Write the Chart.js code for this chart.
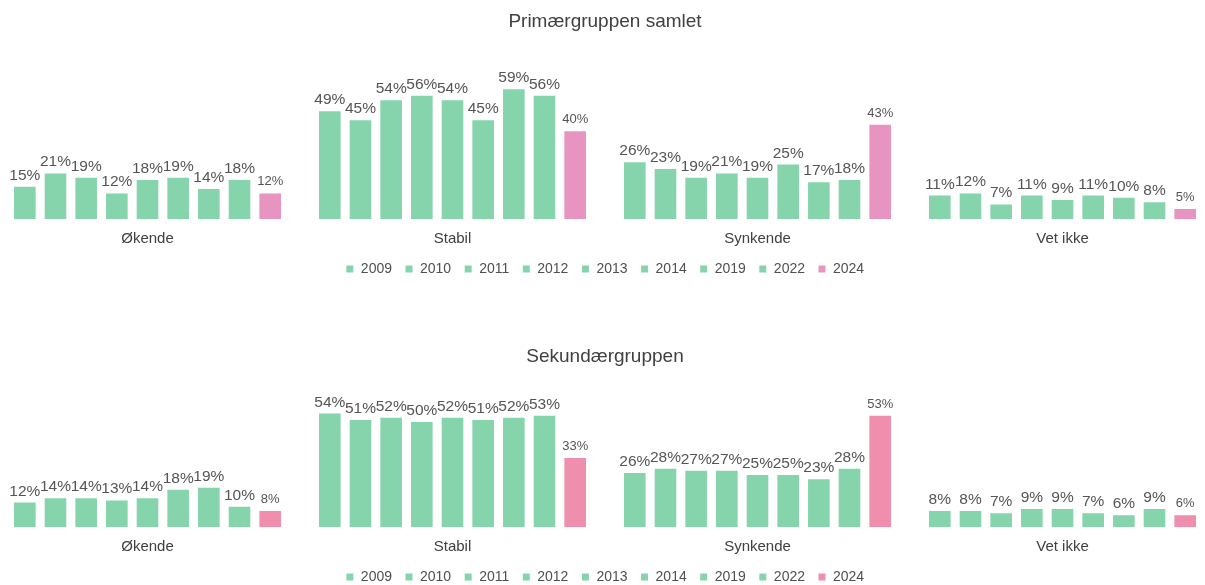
<!DOCTYPE html>
<html>
<head>
<meta charset="utf-8">
<script src="https://cdn.jsdelivr.net/npm/chart.js@4/dist/chart.umd.min.js"></script>
<style>
  html, body { margin: 0; padding: 0; background: #fff; overflow: hidden; }
  body { width: 1205px; height: 585px; position: relative; }
  .box { position: absolute; left: -5px; width: 1220px; }
  #top { top: 0; height: 286px; }
  #bottom { top: 335px; height: 259px; }
</style>
</head>
<body>
<div class="box" id="top"><canvas id="chartTop"></canvas></div>
<div class="box" id="bottom"><canvas id="chartBottom"></canvas></div>
<script>
const categories = ['Økende', 'Stabil', 'Synkende', 'Vet ikke'];
const years = ['2009', '2010', '2011', '2012', '2013', '2014', '2019', '2022', '2024'];

// Primærgruppen samlet, one array per category (values per year)
const primOkende   = [15, 21, 19, 12, 18, 19, 14, 18, 12];
const primStabil   = [49, 45, 54, 56, 54, 45, 59, 56, 40];
const primSynkende = [26, 23, 19, 21, 19, 25, 17, 18, 43];
const primVetIkke  = [11, 12, 7, 11, 9, 11, 10, 8, 5];

// Sekundærgruppen
const sekOkende   = [12, 14, 14, 13, 14, 18, 19, 10, 8];
const sekStabil   = [54, 51, 52, 50, 52, 51, 52, 53, 33];
const sekSynkende = [26, 28, 27, 27, 25, 25, 23, 28, 53];
const sekVetIkke  = [8, 8, 7, 9, 9, 7, 6, 9, 6];

const GREEN = '#86d4ab';
const TEXT = '#404040';
const FONT = "'Liberation Sans', Arial, sans-serif";

// value labels above each bar (2024 is drawn a bit smaller)
const barLabels = {
    id: 'barLabels',
    afterDatasetsDraw(chart) {
        const ctx = chart.ctx;
        ctx.save();
        ctx.textAlign = 'center';
        ctx.textBaseline = 'alphabetic';
        chart.data.datasets.forEach((ds, i) => {
            const meta = chart.getDatasetMeta(i);
            const last = i === chart.data.datasets.length - 1;
            ctx.font = (last ? '13px ' : '15.5px ') + FONT;
            ctx.fillStyle = '#555555';
            meta.data.forEach((bar, j) => {
                ctx.fillText(ds.data[j] + '%', bar.x, bar.y - (last ? 7 : 6));
            });
        });
        ctx.restore();
    }
};

function makeChart(id, title, rows, pink, yMax) {
    const datasets = years.map((year, i) => ({
        label: year,
        data: rows.map(r => r[i]),
        backgroundColor: i === years.length - 1 ? pink : GREEN,
        borderColor: '#ffffff',
        borderWidth: 1,
        barPercentage: 0.77,
        categoryPercentage: 0.905
    }));
    return new Chart(document.getElementById(id), {
        type: 'bar',
        data: { labels: categories, datasets: datasets },
        options: {
            responsive: true,
            maintainAspectRatio: false,
            animation: false,
            layout: { padding: 0 },
            plugins: {
                title: {
                    display: true,
                    text: title,
                    color: TEXT,
                    font: { family: FONT, size: 19, weight: 'normal' },
                    padding: { top: 10, bottom: 21 }
                },
                legend: {
                    position: 'bottom',
                    labels: {
                        color: '#505050',
                        font: { family: FONT, size: 14 },
                        boxWidth: 8,
                        boxHeight: 8,
                        padding: 13
                    }
                },
                tooltip: { enabled: false }
            },
            scales: {
                x: {
                    grid: { display: false, drawTicks: false },
                    border: { display: false },
                    ticks: { color: TEXT, font: { family: FONT, size: 15 }, padding: 11 },
                    // pull the legend closer to the category labels
                    afterFit: scale => { scale.height -= 10; }
                },
                y: {
                    display: false,
                    min: 0,
                    max: yMax
                }
            }
        },
        plugins: [barLabels]
    });
}

makeChart('chartTop', 'Primærgruppen samlet',
    [primOkende, primStabil, primSynkende, primVetIkke], '#e894c0', 74.5);
makeChart('chartBottom', 'Sekundærgruppen',
    [sekOkende, sekStabil, sekSynkende, sekVetIkke], '#f08eae', 65.2);
</script>
</body>
</html>
